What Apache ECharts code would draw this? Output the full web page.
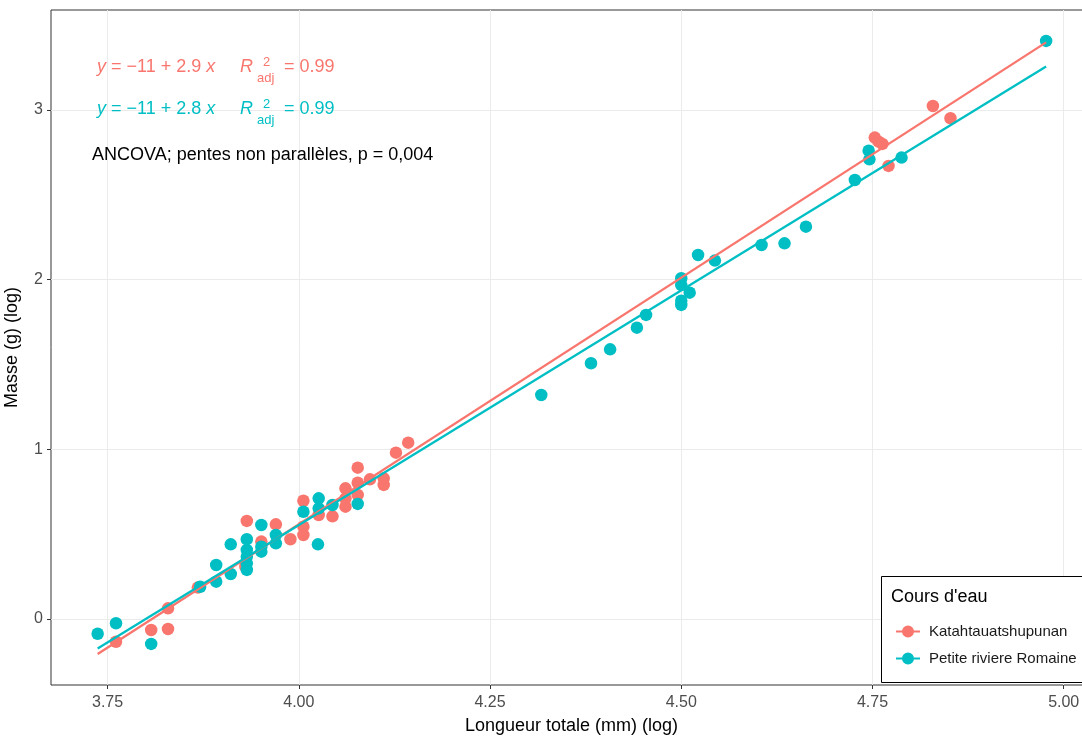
<!DOCTYPE html>
<html>
<head>
<meta charset="utf-8">
<script src="https://cdn.jsdelivr.net/npm/echarts@6/dist/echarts.min.js"></script>
<style>html,body{margin:0;padding:0;background:#fff}#c{width:1082px;height:738px}</style>
</head>
<body>
<div id="c"></div>
<script>
const groupNames = ['Katahtauatshupunan', 'Petite riviere Romaine'];
const colors = ['#F8766D', '#00BFC4'];

// Katahtauatshupunan: log length (x), log mass (y)
const kataX = [3.761, 3.807, 3.829, 3.829, 3.868, 3.932, 3.930, 3.951, 3.970, 3.989,
  4.006, 4.006, 4.006, 4.026, 4.044, 4.061, 4.061, 4.061, 4.077, 4.077,
  4.077, 4.093, 4.111, 4.111, 4.127, 4.143, 4.753, 4.758, 4.763, 4.771,
  4.829, 4.852];
const kataY = [-0.134, -0.065, -0.059, 0.063, 0.185, 0.578, 0.310, 0.456, 0.558, 0.470,
  0.697, 0.544, 0.495, 0.613, 0.605, 0.770, 0.711, 0.662, 0.892, 0.803,
  0.731, 0.823, 0.829, 0.790, 0.980, 1.039, 2.837, 2.813, 2.800, 2.670,
  3.023, 2.951];

// Petite riviere Romaine
const prrX = [3.737, 3.761, 3.807, 3.871, 3.892, 3.892, 3.911, 3.911, 3.932, 3.932,
  3.932, 3.932, 3.932, 3.951, 3.951, 3.951, 3.970, 3.970, 4.006, 4.026,
  4.026, 4.025, 4.044, 4.077, 4.317, 4.382, 4.407, 4.442, 4.454, 4.500,
  4.500, 4.511, 4.500, 4.500, 4.522, 4.544, 4.605, 4.635, 4.663, 4.727,
  4.745, 4.746, 4.788, 4.977];
const prrY = [-0.087, -0.025, -0.147, 0.190, 0.220, 0.318, 0.265, 0.440, 0.470, 0.407,
  0.367, 0.328, 0.289, 0.554, 0.426, 0.397, 0.495, 0.446, 0.632, 0.711,
  0.652, 0.440, 0.672, 0.678, 1.320, 1.507, 1.589, 1.717, 1.792, 2.008,
  1.968, 1.923, 1.876, 1.851, 2.145, 2.112, 2.204, 2.214, 2.312, 2.587,
  2.760, 2.709, 2.719, 3.407];

// fitted regression coefficients (intercept, slope)
const kataFit = [-11.07, 2.907];
const prrFit = [-10.51, 2.766];

const xTicks = [3.75, 4.00, 4.25, 4.50, 4.75, 5.00];
const yTicks = [0, 1, 2, 3];

const eqKata = ['2.9', '= 0.99'];
const eqPrr = ['2.8', '= 0.99'];
const ancovaText = 'ANCOVA; pentes non parallèles, p = 0,004';
const legendTitle = "Cours d'eau";

const pts = (xs, ys) => xs.map((x, i) => [x, ys[i]]);
const allX = kataX.concat(prrX);
const xLo = Math.min(...allX), xHi = Math.max(...allX);
const fitLine = (f) => [xLo, xHi].map(x => [x, f[0] + f[1] * x]);

const FONT = '"Liberation Sans", Arial, sans-serif';
const chart = echarts.init(document.getElementById('c'), null, {renderer: 'canvas'});

const legendIcon = 'path://M0,5.5h24v2h-24z M12,0.5a6,6,0,1,1,0,12a6,6,0,1,1,0,-12z';

function eqGraphics(texts, color, yc) {
  return [
    {type: 'text', left: 97, top: yc - 11, z: 5, style: {
      text: '{i|y} = −11 + ' + texts[0] + ' {i|x}',
      fill: color, font: '18px ' + FONT,
      rich: {i: {fontStyle: 'italic', fontSize: 18, fontFamily: FONT, fill: color}}
    }},
    {type: 'text', left: 240, top: yc - 11, z: 5, style: {text: 'R', fill: color, font: 'italic 18px ' + FONT}},
    {type: 'text', left: 263, top: yc - 13, z: 5, style: {text: '2', fill: color, font: '13px ' + FONT}},
    {type: 'text', left: 257, top: yc + 3, z: 5, style: {text: 'adj', fill: color, font: '13px ' + FONT}},
    {type: 'text', left: 284, top: yc - 11, z: 5, style: {text: texts[1], fill: color, font: '18px ' + FONT}}
  ];
}

const option = {
  animation: false,
  backgroundColor: '#fff',
  textStyle: {fontFamily: FONT},
  grid: {left: 51, top: 10, width: 1041, height: 675, show: true, containLabel: false,
    outerBoundsMode: 'none',
    borderColor: '#333', borderWidth: 1, backgroundColor: 'transparent'},
  xAxis: {
    type: 'value', min: 3.676, max: 5.037,
    name: 'Longueur totale (mm) (log)', nameLocation: 'middle', nameGap: 32,
    nameTextStyle: {fontSize: 18, color: '#000', fontFamily: FONT},
    axisLine: {show: false, onZero: false},
    axisTick: {show: true, length: 4, customValues: xTicks, lineStyle: {color: '#333'}},
    axisLabel: {customValues: xTicks, fontSize: 16, color: '#4D4D4D', margin: 10,
      fontFamily: FONT, formatter: v => v.toFixed(2)},
    splitLine: {show: true, lineStyle: {color: '#EBEBEB', width: 1}}
  },
  yAxis: {
    type: 'value', min: -0.389, max: 3.589,
    name: 'Masse (g) (log)', nameLocation: 'middle', nameGap: 30, nameRotate: 90,
    nameTextStyle: {fontSize: 18, color: '#000', fontFamily: FONT},
    axisLine: {show: false, onZero: false},
    axisTick: {show: true, length: 4, customValues: yTicks, lineStyle: {color: '#333'}},
    axisLabel: {customValues: yTicks, fontSize: 16, color: '#4D4D4D', margin: 8,
      fontFamily: FONT, formatter: v => String(Math.round(v))},
    splitLine: {show: true, lineStyle: {color: '#EBEBEB', width: 1}}
  },
  legend: {
    show: true, orient: 'vertical', left: 891, top: 619, z: 6,
    itemWidth: 24, itemHeight: 13, itemGap: 12,
    textStyle: {fontSize: 15, color: '#1a1a1a', fontFamily: FONT, padding: [0, 0, 0, 4]},
    data: groupNames.map((n, i) => ({name: n, icon: legendIcon, itemStyle: {color: colors[i]}}))
  },
  series: [
    {name: groupNames[0], type: 'scatter', data: pts(kataX, kataY), symbolSize: 12.5,
      itemStyle: {color: colors[0], opacity: 1}, z: 2},
    {name: groupNames[1], type: 'scatter', data: pts(prrX, prrY), symbolSize: 12.5,
      itemStyle: {color: colors[1], opacity: 1}, z: 2},
    {name: groupNames[0], type: 'line', data: fitLine(kataFit), showSymbol: false,
      lineStyle: {color: colors[0], width: 2.3}, itemStyle: {color: colors[0]}, z: 3},
    {name: groupNames[1], type: 'line', data: fitLine(prrFit), showSymbol: false,
      lineStyle: {color: colors[1], width: 2.3}, itemStyle: {color: colors[1]}, z: 3}
  ],
  graphic: [
    ...eqGraphics(eqKata, colors[0], 69),
    ...eqGraphics(eqPrr, colors[1], 111),
    {type: 'text', left: 92, top: 146, z: 5, style: {text: ancovaText, fill: '#000', font: '18px ' + FONT}},
    {type: 'rect', left: 881, top: 576, z: 4, shape: {width: 230, height: 106},
      style: {fill: '#fff', stroke: '#000', lineWidth: 1}},
    {type: 'text', left: 891, top: 588, z: 5, style: {text: legendTitle, fill: '#000', font: '18px ' + FONT}}
  ]
};
chart.setOption(option);
</script>
</body>
</html>
